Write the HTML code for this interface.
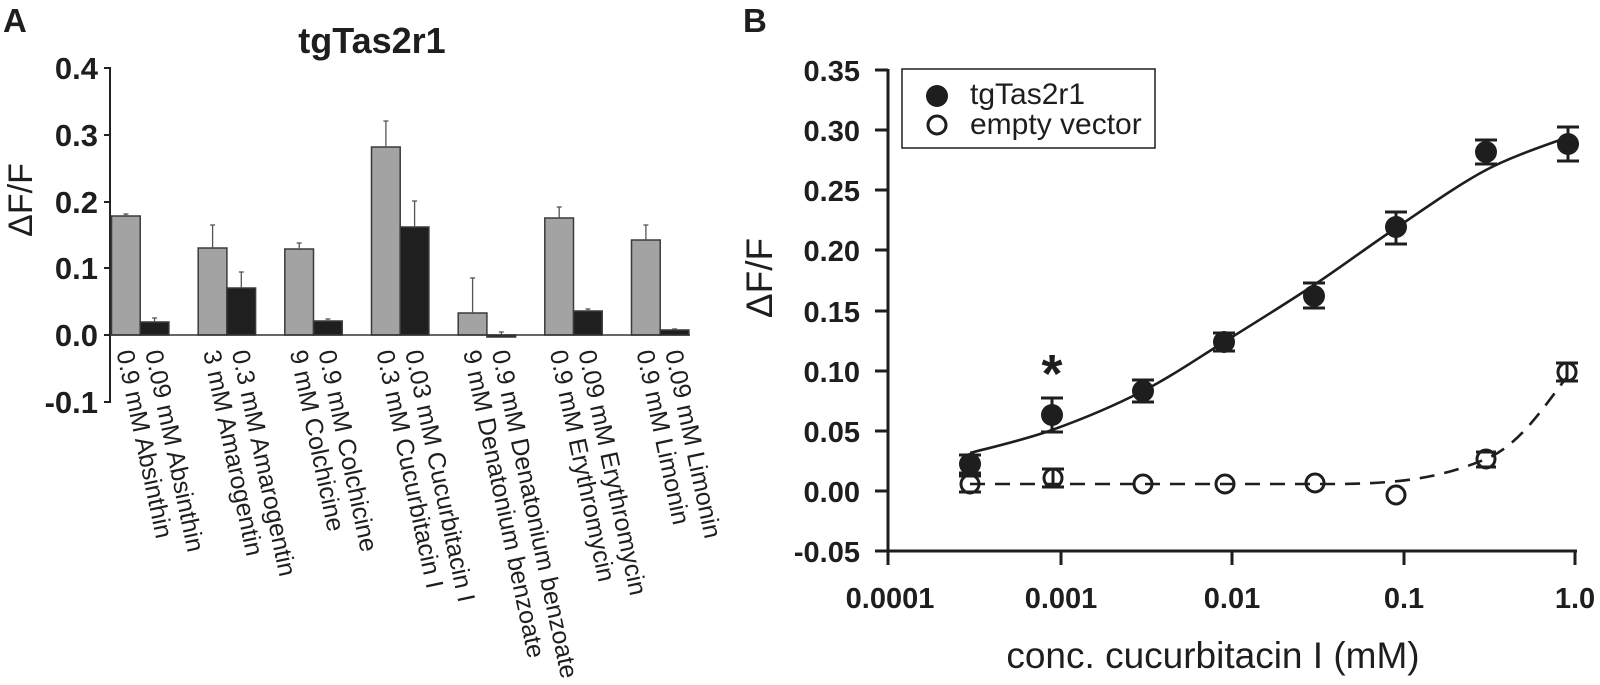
<!DOCTYPE html>
<html>
<head>
<meta charset="utf-8">
<style>
  html,body{margin:0;padding:0;background:#fff;}
  svg{display:block;}
  text{font-family:"Liberation Sans", Arial, sans-serif;fill:#1e1e1e;}
  .b{font-weight:bold;}
</style>
</head>
<body>
<svg width="1600" height="685" viewBox="0 0 1600 685" xmlns="http://www.w3.org/2000/svg">
  <rect x="0" y="0" width="1600" height="685" fill="#fff"/>

  <!-- ================= PANEL A ================= -->
  <text x="3" y="32" class="b" font-size="33">A</text>
  <text x="372" y="53" class="b" font-size="36" text-anchor="middle">tgTas2r1</text>

  <!-- y title -->
  <text transform="translate(32,200) rotate(-90)" font-size="34" text-anchor="middle">ΔF/F</text>

  <!-- y axis -->
  <line x1="110" y1="67" x2="110" y2="403" stroke="#222" stroke-width="2"/>
  <g stroke="#222" stroke-width="2">
    <line x1="104" y1="68" x2="110" y2="68"/>
    <line x1="104" y1="135" x2="110" y2="135"/>
    <line x1="104" y1="202" x2="110" y2="202"/>
    <line x1="104" y1="268" x2="110" y2="268"/>
    <line x1="104" y1="335" x2="110" y2="335"/>
    <line x1="104" y1="402" x2="110" y2="402"/>
  </g>
  <g class="b" font-size="31" text-anchor="end">
    <text x="98" y="79" class="b">0.4</text>
    <text x="98" y="146" class="b">0.3</text>
    <text x="98" y="213" class="b">0.2</text>
    <text x="98" y="279" class="b">0.1</text>
    <text x="98" y="346" class="b">0.0</text>
    <text x="98" y="413" class="b">-0.1</text>
  </g>

  <!-- bars -->
  <g stroke="#3a3a3a" stroke-width="1.5">
    <rect x="111.5" y="216" width="28.7" height="119" fill="#a3a3a3"/>
    <rect x="140.2" y="322" width="28.7" height="13" fill="#1f1f1f"/>
    <rect x="198.2" y="248" width="28.7" height="87" fill="#a3a3a3"/>
    <rect x="226.9" y="288" width="28.7" height="47" fill="#1f1f1f"/>
    <rect x="284.8" y="249" width="28.7" height="86" fill="#a3a3a3"/>
    <rect x="313.5" y="321" width="28.7" height="14" fill="#1f1f1f"/>
    <rect x="371.5" y="147" width="28.7" height="188" fill="#a3a3a3"/>
    <rect x="400.2" y="227" width="28.7" height="108" fill="#1f1f1f"/>
    <rect x="458.2" y="313" width="28.7" height="22" fill="#a3a3a3"/>
    <rect x="486.9" y="335" width="28.7" height="2" fill="#1f1f1f"/>
    <rect x="544.8" y="218" width="28.7" height="117" fill="#a3a3a3"/>
    <rect x="573.5" y="311" width="28.7" height="24" fill="#1f1f1f"/>
    <rect x="631.5" y="240" width="28.7" height="95" fill="#a3a3a3"/>
    <rect x="660.2" y="330" width="28.7" height="5" fill="#1f1f1f"/>
  </g>

  <!-- error bars A -->
  <g stroke="#555" stroke-width="1.3">
    <line x1="125.9" y1="216" x2="125.9" y2="214"/><line x1="123.4" y1="214" x2="128.4" y2="214"/>
    <line x1="154.6" y1="322" x2="154.6" y2="318"/><line x1="152.1" y1="318" x2="157.1" y2="318"/>
    <line x1="212.6" y1="248" x2="212.6" y2="225"/><line x1="210.1" y1="225" x2="215.1" y2="225"/>
    <line x1="241.3" y1="288" x2="241.3" y2="272"/><line x1="238.8" y1="272" x2="243.8" y2="272"/>
    <line x1="299.2" y1="249" x2="299.2" y2="243"/><line x1="296.7" y1="243" x2="301.7" y2="243"/>
    <line x1="327.9" y1="321" x2="327.9" y2="319"/><line x1="325.4" y1="319" x2="330.4" y2="319"/>
    <line x1="385.9" y1="147" x2="385.9" y2="121"/><line x1="383.4" y1="121" x2="388.4" y2="121"/>
    <line x1="414.6" y1="227" x2="414.6" y2="201"/><line x1="412.1" y1="201" x2="417.1" y2="201"/>
    <line x1="472.6" y1="313" x2="472.6" y2="278"/><line x1="470.1" y1="278" x2="475.1" y2="278"/>
    <line x1="501.3" y1="335" x2="501.3" y2="332"/><line x1="498.8" y1="332" x2="503.8" y2="332"/>
    <line x1="559.2" y1="218" x2="559.2" y2="207"/><line x1="556.7" y1="207" x2="561.7" y2="207"/>
    <line x1="587.9" y1="311" x2="587.9" y2="309"/><line x1="585.4" y1="309" x2="590.4" y2="309"/>
    <line x1="645.9" y1="240" x2="645.9" y2="225"/><line x1="643.4" y1="225" x2="648.4" y2="225"/>
    <line x1="674.6" y1="330" x2="674.6" y2="329"/><line x1="672.1" y1="329" x2="677.1" y2="329"/>
  </g>

  <!-- zero line -->
  <line x1="110" y1="335" x2="690" y2="335" stroke="#333" stroke-width="1.6"/>

  <!-- rotated x labels -->
  <g font-size="25">
    <text transform="translate(116.4,352) rotate(78)">0.9 mM Absinthin</text>
    <text transform="translate(145.1,352) rotate(78)">0.09 mM Absinthin</text>
    <text transform="translate(203.1,352) rotate(78)">3 mM Amarogentin</text>
    <text transform="translate(231.8,352) rotate(78)">0.3 mM Amarogentin</text>
    <text transform="translate(289.7,352) rotate(78)">9 mM Colchicine</text>
    <text transform="translate(318.4,352) rotate(78)">0.9 mM Colchicine</text>
    <text transform="translate(376.4,352) rotate(78)">0.3 mM Cucurbitacin I</text>
    <text transform="translate(405.1,352) rotate(78)">0.03 mM Cucurbitacin I</text>
    <text transform="translate(463.1,352) rotate(78)">9 mM Denatonium benzoate</text>
    <text transform="translate(491.8,352) rotate(78)">0.9 mM Denatonium benzoate</text>
    <text transform="translate(549.7,352) rotate(78)">0.9 mM Erythromycin</text>
    <text transform="translate(578.4,352) rotate(78)">0.09 mM Erythromycin</text>
    <text transform="translate(636.4,352) rotate(78)">0.9 mM Limonin</text>
    <text transform="translate(665.1,352) rotate(78)">0.09 mM Limonin</text>
  </g>

  <!-- ================= PANEL B ================= -->
  <text x="743" y="32" class="b" font-size="33">B</text>
  <text transform="translate(772,278) rotate(-90)" font-size="37" text-anchor="middle">ΔF/F</text>

  <!-- axes -->
  <g stroke="#1e1e1e" stroke-width="3" fill="none">
    <line x1="888" y1="69" x2="888" y2="565"/>
    <line x1="888" y1="551" x2="1577" y2="551"/>
    <line x1="875" y1="70" x2="888" y2="70"/>
    <line x1="875" y1="130" x2="888" y2="130"/>
    <line x1="875" y1="190" x2="888" y2="190"/>
    <line x1="875" y1="250" x2="888" y2="250"/>
    <line x1="875" y1="311" x2="888" y2="311"/>
    <line x1="875" y1="371" x2="888" y2="371"/>
    <line x1="875" y1="431" x2="888" y2="431"/>
    <line x1="875" y1="491" x2="888" y2="491"/>
    <line x1="875" y1="551" x2="888" y2="551"/>
    <line x1="1061" y1="551" x2="1061" y2="565"/>
    <line x1="1232" y1="551" x2="1232" y2="565"/>
    <line x1="1404" y1="551" x2="1404" y2="565"/>
    <line x1="1575" y1="549.5" x2="1575" y2="565"/>
  </g>
  <g font-size="29" text-anchor="end">
    <text x="860" y="81" class="b">0.35</text>
    <text x="860" y="141" class="b">0.30</text>
    <text x="860" y="201" class="b">0.25</text>
    <text x="860" y="261" class="b">0.20</text>
    <text x="860" y="322" class="b">0.15</text>
    <text x="860" y="382" class="b">0.10</text>
    <text x="860" y="442" class="b">0.05</text>
    <text x="860" y="502" class="b">0.00</text>
    <text x="860" y="562" class="b">-0.05</text>
  </g>
  <g font-size="29" text-anchor="middle">
    <text x="890" y="608" class="b">0.0001</text>
    <text x="1061" y="608" class="b">0.001</text>
    <text x="1232" y="608" class="b">0.01</text>
    <text x="1404" y="608" class="b">0.1</text>
    <text x="1575" y="608" class="b">1.0</text>
  </g>
  <text x="1213" y="668" font-size="37" text-anchor="middle">conc. cucurbitacin I (mM)</text>

  <!-- legend -->
  <rect x="902" y="69" width="253" height="79" fill="none" stroke="#1e1e1e" stroke-width="1.5"/>
  <circle cx="937" cy="96" r="11" fill="#1e1e1e"/>
  <circle cx="937" cy="125" r="9" fill="none" stroke="#1e1e1e" stroke-width="3"/>
  <text x="970" y="104" font-size="30">tgTas2r1</text>
  <text x="970" y="134" font-size="30">empty vector</text>

  <!-- dashed fit -->
  <path fill="none" stroke="#1e1e1e" stroke-width="2.6" stroke-dasharray="15 10"
    d="M970,484 L1330,484 C1400,484 1440,478 1486,459 C1520,445 1545,405 1567,377"/>
  <!-- solid fit -->
  <path fill="none" stroke="#1e1e1e" stroke-width="2.6"
    d="M970,453 C983.7,449.2 1023.2,440.3 1052,430 C1080.8,419.7 1114.3,405.7 1143,391 C1171.7,376.3 1195.5,359.7 1224,342 C1252.5,324.3 1285.3,304 1314,285 C1342.7,266 1367.3,247.2 1396,228 C1424.7,208.8 1457.3,185.2 1486,170 C1514.7,154.8 1554.3,142.5 1568,137"/>

  <!-- error bars filled -->
  <g stroke="#1e1e1e" stroke-width="3">
    <line x1="970" y1="455" x2="970" y2="473"/><line x1="959" y1="455" x2="981" y2="455"/><line x1="959" y1="473" x2="981" y2="473"/>
    <line x1="1052" y1="398" x2="1052" y2="432"/><line x1="1041" y1="398" x2="1063" y2="398"/><line x1="1041" y1="432" x2="1063" y2="432"/>
    <line x1="1143" y1="380" x2="1143" y2="402"/><line x1="1132" y1="380" x2="1154" y2="380"/><line x1="1132" y1="402" x2="1154" y2="402"/>
    <line x1="1224" y1="333" x2="1224" y2="351"/><line x1="1213" y1="333" x2="1235" y2="333"/><line x1="1213" y1="351" x2="1235" y2="351"/>
    <line x1="1314" y1="283" x2="1314" y2="308"/><line x1="1303" y1="283" x2="1325" y2="283"/><line x1="1303" y1="308" x2="1325" y2="308"/>
    <line x1="1396" y1="212" x2="1396" y2="244"/><line x1="1385" y1="212" x2="1407" y2="212"/><line x1="1385" y1="244" x2="1407" y2="244"/>
    <line x1="1486" y1="140" x2="1486" y2="164"/><line x1="1475" y1="140" x2="1497" y2="140"/><line x1="1475" y1="164" x2="1497" y2="164"/>
    <line x1="1568" y1="127" x2="1568" y2="161"/><line x1="1557" y1="127" x2="1579" y2="127"/><line x1="1557" y1="161" x2="1579" y2="161"/>
  </g>
  <!-- error bars open -->
  <g stroke="#1e1e1e" stroke-width="3">
    <line x1="959" y1="476" x2="981" y2="476"/><line x1="959" y1="492" x2="981" y2="492"/>
    <line x1="1053" y1="469" x2="1053" y2="487"/><line x1="1042" y1="469" x2="1064" y2="469"/><line x1="1042" y1="487" x2="1064" y2="487"/>
    <line x1="1476" y1="452" x2="1496" y2="452"/><line x1="1476" y1="467" x2="1496" y2="467"/>
    <line x1="1567" y1="363" x2="1567" y2="381"/><line x1="1556" y1="363" x2="1578" y2="363"/><line x1="1556" y1="381" x2="1578" y2="381"/>
  </g>

  <!-- filled points -->
  <g fill="#1e1e1e">
    <circle cx="970" cy="464" r="11"/>
    <circle cx="1052" cy="415" r="11"/>
    <circle cx="1143" cy="391" r="11"/>
    <circle cx="1224" cy="342" r="11"/>
    <circle cx="1314" cy="296" r="11"/>
    <circle cx="1396" cy="227" r="11"/>
    <circle cx="1486" cy="152" r="11"/>
    <circle cx="1568" cy="144" r="11"/>
  </g>
  <!-- open points -->
  <g fill="none" stroke="#1e1e1e" stroke-width="3">
    <circle cx="970" cy="484" r="9"/>
    <circle cx="1053" cy="478" r="9"/>
    <circle cx="1143" cy="484" r="9"/>
    <circle cx="1225" cy="484" r="9"/>
    <circle cx="1315" cy="483" r="9"/>
    <circle cx="1396" cy="495" r="9"/>
    <circle cx="1486" cy="459" r="9"/>
    <circle cx="1567" cy="372" r="9"/>
  </g>

  <!-- asterisk -->
  <text x="1052" y="392" class="b" font-size="54" text-anchor="middle">*</text>
</svg>
</body>
</html>
